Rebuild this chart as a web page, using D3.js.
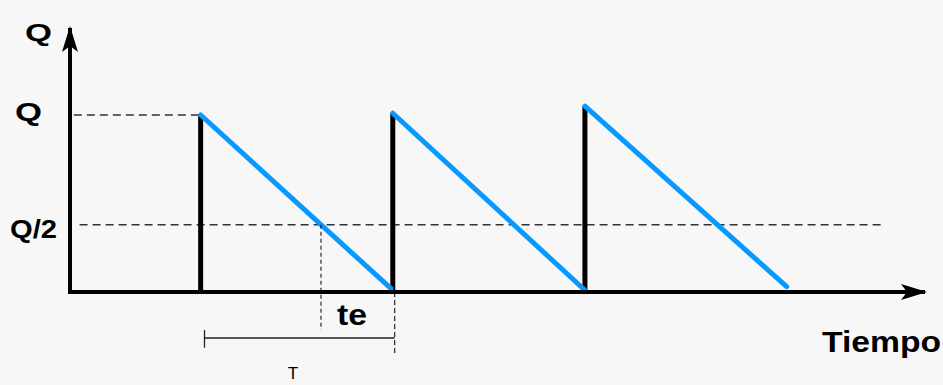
<!DOCTYPE html>
<html>

<head>
  <title>inventario Q</title>
  <style>
    body {
      margin: 0;
      background: #f7f7f7;
    }

    .main text {
      font-family: "Liberation Sans", Arial, sans-serif;
      fill: #000;
    }

    text.big-label {
      font-size: 29px;
      font-weight: bold;
    }
  </style>
</head>

<body>
  <script type="text/javascript" src="https://cdn.jsdelivr.net/npm/d3@7"></script>
</body>

<script>
  // ciclos de inventario (tiempo en unidades del eje, nivel en fracciones de Q)
  var cycleStart = [0.68, 1.68, 2.68];
  var cycleEnd = [1.67, 2.68, 3.73];
  var peakLevel = [1.0, 1.01, 1.05];
  var endLevel = [0.02, 0.01, 0.03];

  // niveles de referencia tal como aparecen dibujados
  var levelNames = ['Q', 'Q/2'];
  var levelValues = [1.0, 0.38];
  var levelFrom = [0.02, 0.05];
  var levelTo = [0.68, 4.23];

  // intervalo T y te
  var periodFrom = 0.70;
  var periodTo = 1.69;

  var W = 943,
    H = 385;

  var x = d3.scaleLinear().domain([0, 4.45]).range([70, 925]);
  var y = d3.scaleLinear().domain([0, 1]).range([292, 115]);

  var chart = d3.select('body')
    .append('svg')
    .attr('width', W)
    .attr('height', H)
    .attr('class', 'chart');

  chart.append('rect')
    .attr('width', W)
    .attr('height', H)
    .attr('fill', '#f7f7f7');

  var defs = chart.append('defs');
  defs.append('marker')
    .attr('id', 'arrow')
    .attr('viewBox', '0 0 26 16')
    .attr('refX', 24)
    .attr('refY', 8)
    .attr('markerWidth', 26)
    .attr('markerHeight', 16)
    .attr('markerUnits', 'userSpaceOnUse')
    .attr('orient', 'auto')
    .append('path')
    .attr('d', 'M0,0 L26,8 L0,16 L6,8 Z')
    .attr('fill', '#000');

  var main = chart.append('g')
    .attr('class', 'main');

  // lineas de nivel discontinuas
  var levels = main.append('g').attr('class', 'levels');
  levels.selectAll('line')
    .data(levelValues)
    .enter()
    .append('line')
    .attr('x1', function(d, i) { return x(levelFrom[i]); })
    .attr('x2', function(d, i) { return x(levelTo[i]); })
    .attr('y1', function(d) { return y(d); })
    .attr('y2', function(d) { return y(d); })
    .attr('stroke', '#333')
    .attr('stroke-width', 1.3)
    .attr('stroke-dasharray', '8,5');

  var labelX = [15, 10];
  var labelW = [27, 47];
  levels.selectAll('text')
    .data(levelNames)
    .enter()
    .append('text')
    .attr('x', function(d, i) { return labelX[i]; })
    .attr('y', function(d, i) { return y(levelValues[i]) + (i === 0 ? 6 : 13); })
    .attr('class', 'big-label')
    .style('font-size', '25px')
    .attr('textLength', function(d, i) { return labelW[i]; })
    .attr('lengthAdjust', 'spacingAndGlyphs')
    .text(function(d) { return d; });

  // reposicion instantanea (verticales negras)
  main.append('g')
    .selectAll('line')
    .data(cycleStart)
    .enter()
    .append('line')
    .attr('x1', function(d) { return x(d); })
    .attr('x2', function(d) { return x(d); })
    .attr('y1', y(0))
    .attr('y2', function(d, i) { return y(peakLevel[i]); })
    .attr('stroke', '#000')
    .attr('stroke-width', 5);

  // consumo (rectas azules)
  main.append('g')
    .selectAll('line')
    .data(cycleStart)
    .enter()
    .append('line')
    .attr('x1', function(d) { return x(d); })
    .attr('y1', function(d, i) { return y(peakLevel[i]); })
    .attr('x2', function(d, i) { return x(cycleEnd[i]); })
    .attr('y2', function(d, i) { return y(endLevel[i]); })
    .attr('stroke', '#0899ff')
    .attr('stroke-width', 5)
    .attr('stroke-linecap', 'round');

  // ejes
  main.append('line')
    .attr('x1', x(0))
    .attr('y1', y(0) + 2)
    .attr('x2', x(0))
    .attr('y2', 28)
    .attr('stroke', '#000')
    .attr('stroke-width', 4)
    .attr('marker-end', 'url(#arrow)');

  main.append('line')
    .attr('x1', x(0) - 2)
    .attr('y1', y(0))
    .attr('x2', x(4.45))
    .attr('y2', y(0))
    .attr('stroke', '#000')
    .attr('stroke-width', 4)
    .attr('marker-end', 'url(#arrow)');

  // cruce del primer ciclo con Q/2
  var half = levelValues[1];
  var f = (peakLevel[0] - half) / (peakLevel[0] - endLevel[0]);
  var tHalf = cycleStart[0] + f * (cycleEnd[0] - cycleStart[0]);

  main.append('line')
    .attr('x1', x(tHalf))
    .attr('x2', x(tHalf))
    .attr('y1', y(half))
    .attr('y2', y(-0.215))
    .attr('stroke', '#000')
    .attr('stroke-width', 1)
    .attr('stroke-dasharray', '4,3');

  main.append('line')
    .attr('x1', x(periodTo))
    .attr('x2', x(periodTo))
    .attr('y1', y(0))
    .attr('y2', y(-0.345))
    .attr('stroke', '#000')
    .attr('stroke-width', 1)
    .attr('stroke-dasharray', '5,3');

  // corchete T
  main.append('line')
    .attr('x1', x(periodFrom))
    .attr('x2', x(periodTo))
    .attr('y1', y(-0.26))
    .attr('y2', y(-0.26))
    .attr('stroke', '#222')
    .attr('stroke-width', 1.3);
  main.append('line')
    .attr('x1', x(periodFrom))
    .attr('x2', x(periodFrom))
    .attr('y1', y(-0.215))
    .attr('y2', y(-0.315))
    .attr('stroke', '#222')
    .attr('stroke-width', 1.3);

  main.append('text')
    .attr('x', 293)
    .attr('y', 379)
    .attr('text-anchor', 'middle')
    .style('font-size', '17px')
    .text('T');

  main.append('text')
    .attr('x', 337)
    .attr('y', 325)
    .attr('class', 'big-label')
    .attr('textLength', 30)
    .attr('lengthAdjust', 'spacingAndGlyphs')
    .text('te');

  main.append('text')
    .attr('x', 822)
    .attr('y', 352)
    .attr('class', 'big-label')
    .attr('textLength', 119)
    .attr('lengthAdjust', 'spacingAndGlyphs')
    .text('Tiempo');

  main.append('text')
    .attr('x', 25)
    .attr('y', 41)
    .attr('class', 'big-label')
    .style('font-size', '24px')
    .attr('textLength', 27)
    .attr('lengthAdjust', 'spacingAndGlyphs')
    .text('Q');
</script>

</html>
